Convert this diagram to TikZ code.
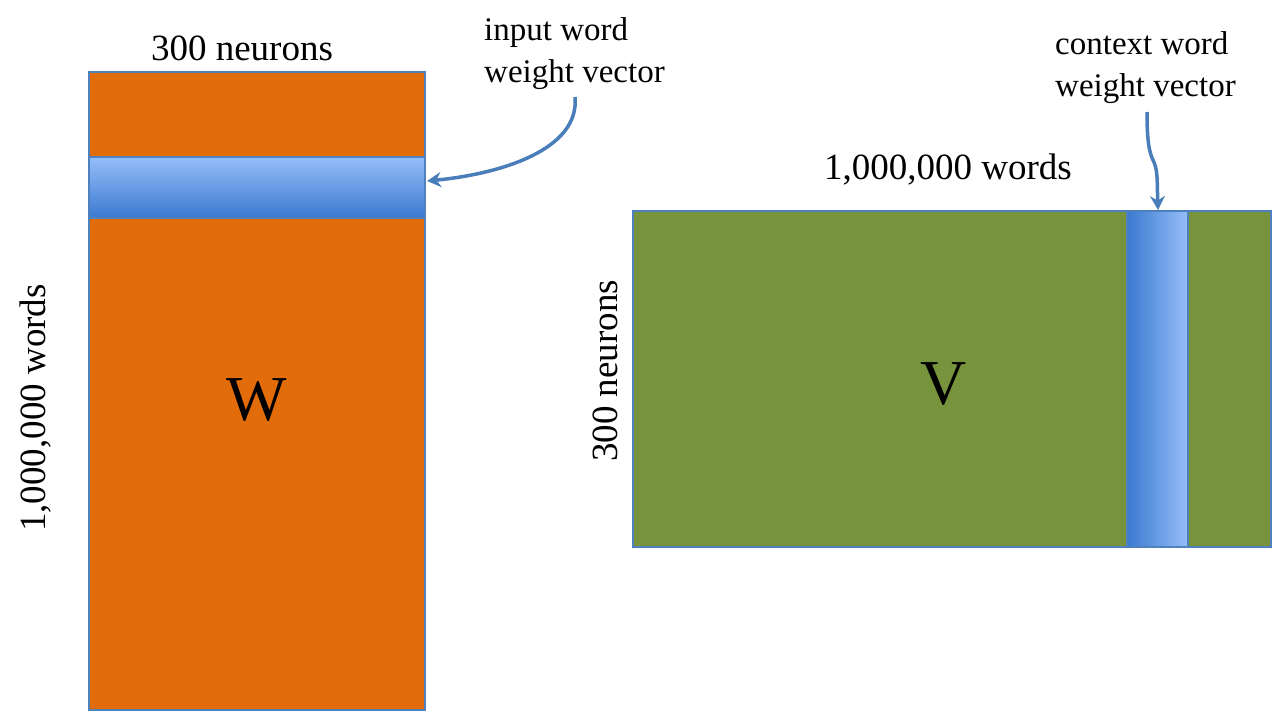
\documentclass[tikz,border=0pt]{standalone}
\usepackage{fontspec}
\setmainfont{Liberation Serif}
\usetikzlibrary{arrows.meta}
\definecolor{orW}{HTML}{E36C0A}
\definecolor{grV}{HTML}{77933C}
\definecolor{edge}{HTML}{4F81BD}
\definecolor{bLight}{HTML}{95BEF8}
\definecolor{bDark}{HTML}{3B7AD0}
\definecolor{arr}{HTML}{4A7EBB}
\tikzset{
  matrixbox/.style={draw=edge, line width=1.2pt, inner sep=0pt, outer sep=0pt},
  lab/.style={font=\fontsize{37}{44}\selectfont, inner sep=0pt},
  note/.style={font=\fontsize{33}{42}\selectfont, inner sep=0pt, align=left},
  big/.style={font=\fontsize{64}{70}\selectfont, inner sep=0pt},
  pointer/.style={draw=arr, line width=3.5pt, -{Stealth[length=14pt,width=15pt]}}
}
\begin{document}
\begin{tikzpicture}[x=1pt,y=-1pt]
\useasboundingbox[fill=white] (0,0) rectangle (1272,712);
% W matrix
\fill[orW] (89,72) rectangle (425,710);
\shade[top color=bLight, bottom color=bDark] (89,157) rectangle (425,218);
\draw[matrixbox] (89,72) rectangle (425,710);
\draw[matrixbox] (89,157) rectangle (425,218);
\coordinate (wband) at (427,181);
\node[big] (W) at (257,400) {W};
\node[lab] (wtop) at (242,48) {300 neurons};
\node[lab, rotate=90] (wleft) at (36,408) {1,000,000 words};
% V matrix
\fill[grV] (633,211) rectangle (1271,547);
\shade[left color=bDark, right color=bLight] (1127,211) rectangle (1188,547);
\draw[matrixbox] (633,211) rectangle (1271,547);
\draw[matrixbox] (1127,211) rectangle (1188,547);
\coordinate (vcol) at (1158,210);
\node[big] (V) at (944,384) {V};
\node[lab] (vtop) at (948,170) {1,000,000 words};
\node[lab, rotate=90] (vleft) at (605,371) {300 neurons};
% notes
\node[note, anchor=west] (n1) at (484,54) {input word\\weight vector};
\node[note, anchor=west] (n2) at (1055,68) {context word\\weight vector};
\coordinate (n1s) at (575,97);
\coordinate (n2s) at (1147,112);
\draw[pointer] (n1s) .. controls (580,150) and (500,174) .. (wband);
\draw[pointer] (n2s) .. controls (1147,140) and (1149,152) .. (1153,160) .. controls (1158,170) and (1157,180) .. (vcol);
\end{tikzpicture}
\end{document}
